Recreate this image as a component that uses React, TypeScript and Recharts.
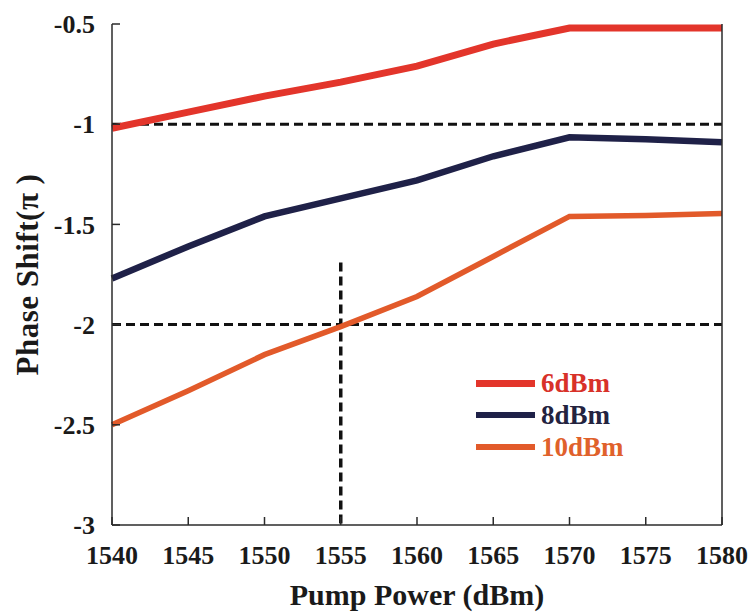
import { LineChart, Line, XAxis, YAxis, ReferenceLine, Label } from 'recharts';

const wavelengths = [1540, 1545, 1550, 1555, 1560, 1565, 1570, 1575, 1580];
const shift6dBm = [-1.02, -0.94, -0.86, -0.79, -0.71, -0.6, -0.52, -0.52, -0.52];
const shift8dBm = [-1.77, -1.61, -1.46, -1.37, -1.28, -1.16, -1.065, -1.075, -1.09];
const shift10dBm = [-2.5, -2.33, -2.15, -2.01, -1.86, -1.66, -1.46, -1.455, -1.445];

const xTicks = [1540, 1545, 1550, 1555, 1560, 1565, 1570, 1575, 1580];
const yTicks = [-3, -2.5, -2, -1.5, -1, -0.5];

const guideLevels = [-1, -2];
const markerWavelength = 1555;
const markerTop = -1.69;

const series = [
  { key: 'p6', name: '6dBm', color: '#e3352b', text: '#d83129', width: 7 },
  { key: 'p8', name: '8dBm', color: '#1f2148', text: '#23233f', width: 6.5 },
  { key: 'p10', name: '10dBm', color: '#e25a2a', text: '#e0612b', width: 5.5 },
];

const data = wavelengths.map((w, i) => ({
  w,
  p6: shift6dBm[i],
  p8: shift8dBm[i],
  p10: shift10dBm[i],
}));

const FONT = "'Liberation Serif', 'Times New Roman', serif";
const AXIS = '#2b2b2b';
const tickStyle = { fill: '#1a1a1a', fontSize: 26, fontWeight: 700, fontFamily: FONT };

function LegendBox() {
  return (
    <div
      style={{
        position: 'absolute',
        left: 476,
        top: 367,
        fontFamily: FONT,
        fontWeight: 700,
        fontSize: 27,
      }}
    >
      {series.map((s) => (
        <div key={s.key} style={{ display: 'flex', alignItems: 'center', height: 32 }}>
          <div style={{ width: 59, height: s.width, background: s.color, marginRight: 6 }} />
          <span style={{ color: s.text, lineHeight: '32px' }}>{s.name}</span>
        </div>
      ))}
    </div>
  );
}

export default function App() {
  return (
    <div
      style={{
        position: 'absolute',
        left: 0,
        top: 0,
        width: 756,
        height: 615,
        background: '#fff',
        fontFamily: FONT,
      }}
    >
      <LineChart
        width={756}
        height={615}
        data={data}
        margin={{ top: 24, right: 0, bottom: 0, left: 0 }}
        style={{ fontFamily: FONT }}
      >
        <XAxis
          dataKey="w"
          type="number"
          domain={[1540, 1580]}
          ticks={xTicks}
          height={90}
          stroke={AXIS}
          strokeWidth={1.5}
          tickSize={-8}
          tickMargin={29}
          tick={tickStyle}
        >
          <Label
            value="Pump Power (dBm)"
            position="insideBottom"
            offset={10}
            style={{ fill: '#1a1a1a', fontSize: 30, fontWeight: 700, fontFamily: FONT }}
          />
        </XAxis>
        <XAxis
          xAxisId="top"
          orientation="top"
          dataKey="w"
          type="number"
          domain={[1540, 1580]}
          ticks={xTicks}
          height={0}
          stroke={AXIS}
          strokeWidth={1.5}
          tickSize={-8}
          tick={false}
        />
        <YAxis
          type="number"
          domain={[-3, -0.5]}
          ticks={yTicks}
          width={112}
          stroke={AXIS}
          strokeWidth={1.5}
          tickSize={-8}
          tickMargin={25}
          tick={tickStyle}
        >
          <Label
            value="Phase Shift(π )"
            angle={-90}
            position="insideLeft"
            offset={27}
            style={{
              textAnchor: 'middle',
              fill: '#1a1a1a',
              fontSize: 31,
              fontWeight: 700,
              fontFamily: FONT,
              letterSpacing: 0.5,
            }}
          />
        </YAxis>
        <YAxis
          yAxisId="right"
          orientation="right"
          type="number"
          domain={[-3, -0.5]}
          ticks={yTicks}
          width={34}
          stroke={AXIS}
          strokeWidth={1.5}
          tickSize={-8}
          tick={false}
        />
        {guideLevels.map((g) => (
          <ReferenceLine key={g} y={g} stroke="#111" strokeWidth={3} strokeDasharray="9 5" />
        ))}
        <ReferenceLine
          segment={[
            { x: markerWavelength, y: markerTop },
            { x: markerWavelength, y: -3 },
          ]}
          stroke="#111"
          strokeWidth={3.5}
          strokeDasharray="9 5"
        />
        {series.map((s) => (
          <Line
            key={s.key}
            dataKey={s.key}
            name={s.name}
            type="linear"
            stroke={s.color}
            strokeWidth={s.width}
            dot={false}
            activeDot={false}
            isAnimationActive={false}
          />
        ))}
      </LineChart>
      <LegendBox />
    </div>
  );
}
